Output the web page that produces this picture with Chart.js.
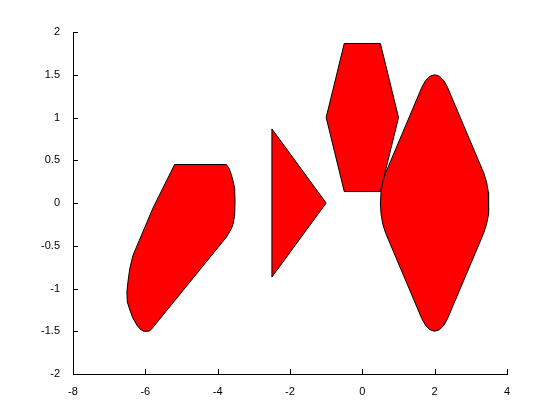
<!DOCTYPE html>
<html>
<head>
<meta charset="utf-8">
<script src="https://cdn.jsdelivr.net/npm/chart.js@4/dist/chart.umd.min.js"></script>
<style>
  html, body { margin: 0; padding: 0; background: #fff; }
  #plot { display: block; }
</style>
</head>
<body>
<canvas id="plot" width="560" height="420"></canvas>
<script>
// outline of each patch (closed: first point repeated)
const leftShapeX = [-5.19, -3.76, -3.69, -3.62, -3.57, -3.53, -3.52, -3.53, -3.57, -3.62, -3.76, -5.83, -5.90, -6.05, -6.14, -6.23, -6.34, -6.43, -6.50, -6.51, -6.48, -6.43, -6.34, -5.79, -5.19];
const leftShapeY = [0.45, 0.45, 0.41, 0.33, 0.25, 0.17, 0.015, -0.14, -0.24, -0.30, -0.40, -1.476, -1.50, -1.50, -1.476, -1.43, -1.35, -1.25, -1.156, -1.04, -0.92, -0.765, -0.61, -0.06, 0.45];

const triangleX = [-2.5, -1, -2.5, -2.5];
const triangleY = [0.866, 0, -0.866, 0.866];

const hexagonX = [-0.5, 0.5, 1, 0.5, -0.5, -1, -0.5];
const hexagonY = [1.866, 1.866, 1, 0.134, 0.134, 1, 1.866];

const diamondX = [2, 2.129, 2.25, 2.354, 3.354, 3.433, 3.483, 3.5, 3.483, 3.433, 3.354,
  2.354, 2.25, 2.129, 2, 1.871, 1.75, 1.646, 0.646, 0.567, 0.517, 0.5, 0.517, 0.567, 0.646,
  1.646, 1.75, 1.871, 2];
const diamondY = [1.5, 1.483, 1.433, 1.354, 0.354, 0.25, 0.129, 0, -0.129, -0.25, -0.354,
  -1.354, -1.433, -1.483, -1.5, -1.483, -1.433, -1.354, -0.354, -0.25, -0.129, 0, 0.129, 0.25, 0.354,
  1.354, 1.433, 1.483, 1.5];

const xTicks = [-8, -6, -4, -2, 0, 2, 4];
const yTicks = [-2, -1.5, -1, -0.5, 0, 0.5, 1, 1.5, 2];

const toPoints = (xs, ys) => xs.map((x, i) => ({ x: x, y: ys[i] }));

function patch(xs, ys, order) {
  return {
    data: toPoints(xs, ys),
    showLine: true,
    fill: 'shape',
    tension: 0,
    pointRadius: 0,
    borderColor: '#000000',
    borderWidth: 1,
    borderJoinStyle: 'round',
    backgroundColor: '#ff0000',
    order: order
  };
}

// matlab style ticks, pointing into the axes
const inwardTicks = {
  id: 'inwardTicks',
  afterDraw(chart) {
    const ctx = chart.ctx;
    const xs = chart.scales.x, ys = chart.scales.y;
    const area = chart.chartArea;
    ctx.save();
    ctx.strokeStyle = '#000';
    ctx.lineWidth = 1;
    ctx.beginPath();
    xTicks.forEach(v => {
      const px = Math.round(xs.getPixelForValue(v)) + 0.5;
      ctx.moveTo(px, area.bottom);
      ctx.lineTo(px, area.bottom - 5);
    });
    yTicks.forEach(v => {
      const py = Math.round(ys.getPixelForValue(v)) + 0.5;
      ctx.moveTo(area.left, py);
      ctx.lineTo(area.left + 5, py);
    });
    ctx.stroke();
    ctx.restore();
  }
};

const tickFont = { family: 'Liberation Sans', size: 11 };

new Chart(document.getElementById('plot'), {
  type: 'scatter',
  data: {
    datasets: [
      patch(leftShapeX, leftShapeY, 4),
      patch(triangleX, triangleY, 3),
      patch(hexagonX, hexagonY, 2),
      patch(diamondX, diamondY, 1)
    ]
  },
  options: {
    responsive: false,
    animation: false,
    layout: { padding: { top: 32, right: 53, left: 0, bottom: 0 } },
    plugins: { legend: { display: false }, tooltip: { enabled: false } },
    scales: {
      x: {
        type: 'linear',
        min: -8,
        max: 4,
        afterBuildTicks: s => { s.ticks = xTicks.map(v => ({ value: v })); },
        afterFit: s => { s.height = 46; },
        grid: { display: false },
        border: { display: true, color: '#000', width: 1 },
        ticks: { color: '#000', font: tickFont, padding: 3, maxRotation: 0, callback: v => String(v) }
      },
      y: {
        type: 'linear',
        min: -2,
        max: 2,
        afterBuildTicks: s => { s.ticks = yTicks.map(v => ({ value: v })); },
        afterFit: s => { s.width = 73; },
        grid: { display: false },
        border: { display: true, color: '#000', width: 1 },
        ticks: { color: '#000', font: tickFont, padding: 5, callback: v => String(v) }
      }
    }
  },
  plugins: [inwardTicks]
});
</script>
</body>
</html>
